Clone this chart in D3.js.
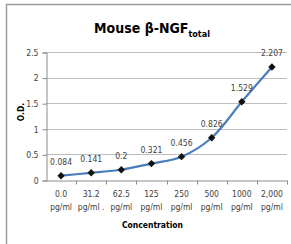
<!DOCTYPE html>
<html lang="en">
<head>
  <meta charset="UTF-8">
  <title>Mouse NGF</title>
  <script src="https://cdn.jsdelivr.net/npm/d3@7"></script>
  <style>
    body { margin: 0; background: #fff; }
    text { font-family: "DejaVu Sans Condensed", "Open Sans", sans-serif; font-stretch: condensed; }
  </style>
</head>
<body>
  <script>
    const concentrations = ["0.0", "31.2", "62.5", "125", "250", "500", "1000", "2,000"];
    const units = ["pg/ml", "pg/ml .", "pg/ml", "pg/ml", "pg/ml", "pg/ml", "pg/ml", "pg/ml"];
    const odValues = [0.084, 0.141, 0.2, 0.321, 0.456, 0.826, 1.529, 2.207];
    const odLabels = ["0.084", "0.141", "0.2", "0.321", "0.456", "0.826", "1.529", "2.207"];
    const yTicks = [0, 0.5, 1, 1.5, 2, 2.5];

    const w = 291, h = 244;
    const plotLeft = 46, plotRight = 287, plotTop = 52, plotBottom = 180;

    const svg = d3.select("body").append("svg")
      .attr("width", w).attr("height", h);

    // chart frame
    svg.append("path")
      .attr("d", `M6.5,${h} V4.5 H${w}`)
      .attr("fill", "none")
      .attr("stroke", "#9a9a9a")
      .attr("stroke-width", 1.5);

    const x = d3.scaleBand().domain(concentrations).range([plotLeft, plotRight]);
    const y = d3.scaleLinear().domain([0, 2.5]).range([plotBottom, plotTop]);

    // gridlines
    svg.append("g")
      .selectAll("line")
      .data(yTicks.filter(d => d > 0))
      .enter().append("line")
      .attr("x1", plotLeft).attr("x2", plotRight)
      .attr("y1", d => Math.round(y(d)) + 0.5).attr("y2", d => Math.round(y(d)) + 0.5)
      .attr("stroke", "#bdbdbd");

    // y axis
    const yAxis = svg.append("g")
      .attr("transform", `translate(${plotLeft + 0.5},0.5)`)
      .call(d3.axisLeft(y).tickValues(yTicks).tickFormat(d3.format("")).tickSize(4).tickPadding(4));
    yAxis.select(".domain").attr("stroke", "#8c8c8c");
    yAxis.selectAll(".tick line").attr("stroke", "#8c8c8c");
    yAxis.selectAll(".tick text").attr("fill", "#404040").style("font-size", "8.5px");

    // x axis
    const xAxis = svg.append("g")
      .attr("transform", `translate(0,${plotBottom + 0.5})`)
      .call(d3.axisBottom(x).tickSize(0).tickFormat(""));
    xAxis.select(".domain").attr("stroke", "#8c8c8c");
    xAxis.selectAll(".tick").remove();
    xAxis.selectAll(".sep")
      .data(concentrations)
      .enter().append("line")
      .attr("class", "sep")
      .attr("x1", d => Math.round(x(d) + x.bandwidth()) + 0.5)
      .attr("x2", d => Math.round(x(d) + x.bandwidth()) + 0.5)
      .attr("y1", 0).attr("y2", 4)
      .attr("stroke", "#8c8c8c");

    const catLabels = svg.append("g")
      .selectAll("text")
      .data(concentrations)
      .enter().append("text")
      .attr("x", d => x(d) + x.bandwidth() / 2)
      .attr("y", plotBottom + 17)
      .attr("text-anchor", "middle")
      .attr("fill", "#404040")
      .style("font-size", "8.5px");
    catLabels.append("tspan").text(d => d);
    catLabels.append("tspan")
      .attr("x", d => x(d) + x.bandwidth() / 2)
      .attr("dy", 13)
      .text((d, i) => units[i]);

    // line
    const pts = concentrations.map((c, i) => [x(c) + x.bandwidth() / 2, y(odValues[i])]);
    svg.append("path")
      .datum(pts)
      .attr("d", d3.line().curve(d3.curveCatmullRom.alpha(0.5)))
      .attr("fill", "none")
      .attr("stroke", "#4a7ebb")
      .attr("stroke-width", 2.2);

    // diamond markers
    svg.append("g")
      .selectAll("path")
      .data(pts)
      .enter().append("path")
      .attr("transform", d => `translate(${d[0]},${d[1]}) rotate(45)`)
      .attr("d", "M-2.6,-2.6H2.6V2.6H-2.6Z")
      .attr("fill", "#111");

    // data labels
    svg.append("g")
      .selectAll("text")
      .data(pts)
      .enter().append("text")
      .attr("x", d => d[0])
      .attr("y", d => d[1] - 11)
      .attr("text-anchor", "middle")
      .attr("fill", "#404040")
      .style("font-size", "8.5px")
      .text((d, i) => odLabels[i]);

    // title
    const title = svg.append("text")
      .attr("x", 152).attr("y", 33)
      .attr("text-anchor", "middle")
      .attr("fill", "#000")
      .style("font-size", "14px")
      .style("font-weight", "bold");
    title.append("tspan").text("Mouse β-NGF");
    title.append("tspan").attr("dy", 4).style("font-size", "9px").text("total");

    // axis titles
    svg.append("text")
      .attr("x", (plotLeft + plotRight) / 2 - 14).attr("y", 228)
      .attr("text-anchor", "middle")
      .style("font-size", "8.5px").style("font-weight", "bold")
      .attr("fill", "#000")
      .text("Concentration");

    svg.append("text")
      .attr("transform", "translate(24,112) rotate(-90)")
      .attr("text-anchor", "middle")
      .style("font-size", "8.5px").style("font-weight", "bold")
      .attr("fill", "#000")
      .text("O.D.");
  </script>
</body>
</html>
